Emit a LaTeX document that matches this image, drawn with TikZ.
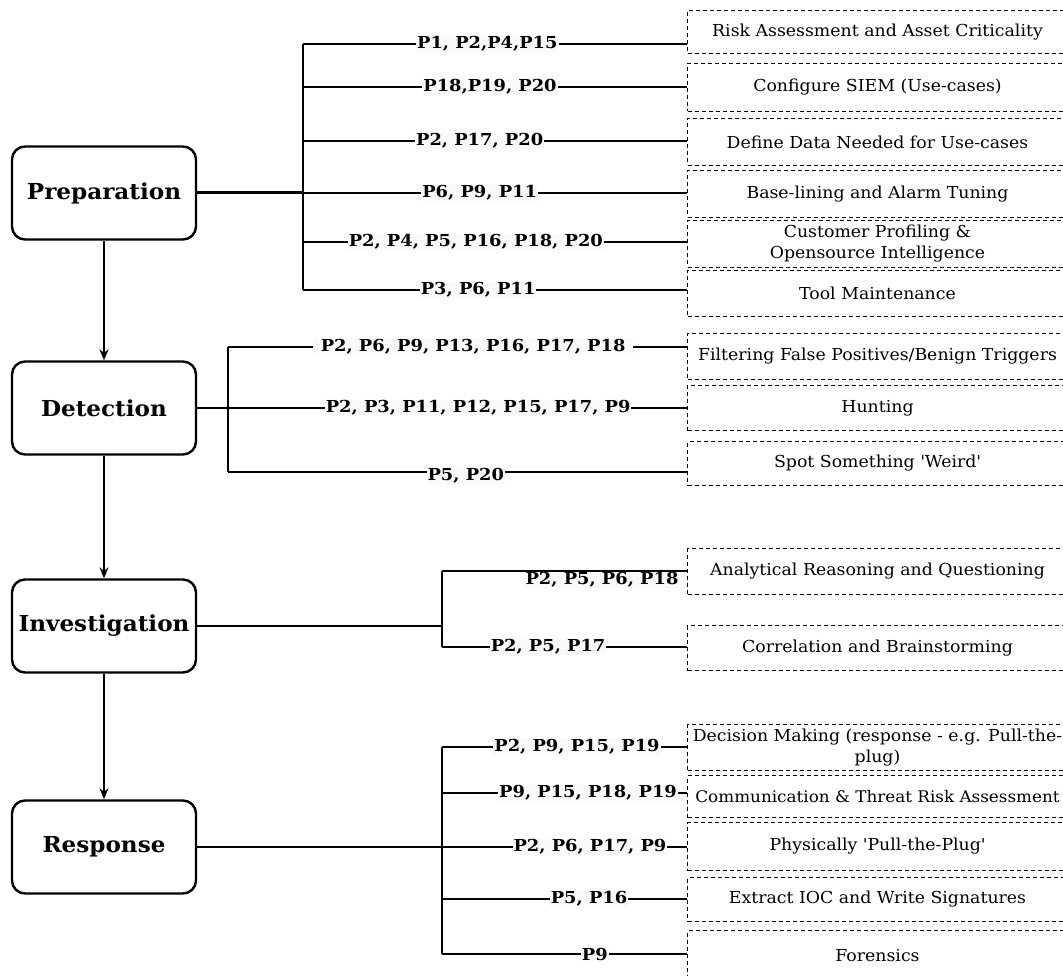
\documentclass[tikz,border=0pt]{standalone}
\usepackage{fontspec}
\setmainfont{DejaVu Serif}[FakeStretch=1.05]
\newfontfamily\reffont{DejaVu Serif}[FakeStretch=1.08]
\usepackage{xcolor}
\usetikzlibrary{arrows.meta, positioning}
\definecolor{refbg}{RGB}{248,249,250}

\begin{document}
\begin{tikzpicture}[x=1pt, y=-1pt, >={Stealth[length=11pt,width=9pt]},
    phase/.style={draw, line width=2.4pt, rounded corners=13pt, minimum width=184pt, minimum height=93pt, font=\bfseries\fontsize{22}{26}\selectfont},
    task/.style={draw, dash pattern=on 4pt off 3pt, line width=1pt, anchor=north west, minimum width=380pt, align=center, inner xsep=1pt, inner ysep=0pt, font=\fontsize{16.5}{21}\selectfont},
    refs/.style={fill=refbg, inner sep=1pt, font=\reffont\bfseries\fontsize{16.5}{20}\selectfont},
    link/.style={line width=1.4pt}]
    \useasboundingbox (0,0) rectangle (1063,976);
    \clip (0,0) rectangle (1063,976);

    % phases
    \node[phase] (prep) at (104,193) {Preparation};
    \node[phase] (det)  at (104,408) {Detection};
    \node[phase] (inv)  at (104,626) {Investigation};
    \node[phase] (res)  at (104,847) {Response};

    \draw[->, line width=1.3pt] (prep) -- (det);
    \draw[->, line width=1.3pt] (det) -- (inv);
    \draw[->, line width=1.3pt] (inv) -- (res);

    % preparation tasks
    \node[task, minimum height=43pt] (r1) at (687,10)  {Risk Assessment and Asset Criticality};
    \node[task, minimum height=48pt] (r2) at (687,63)  {Configure SIEM (Use-cases)};
    \node[task, minimum height=47pt] (r3) at (687,118) {Define Data Needed for Use-cases};
    \node[task, minimum height=47pt] (r4) at (687,170) {Base-lining and Alarm Tuning};
    \node[task, minimum height=47pt] (r5) at (687,220) {Customer Profiling \&\\Opensource Intelligence};
    \node[task, minimum height=46pt] (r6) at (687,270) {Tool Maintenance};

    \draw[line width=3pt] (prep.east) -- (303,193);
    \draw[line width=1.8pt] (303,44) -- (303,290);
    \draw[link] (303,44)  -- node[refs, pos=0.48] {P1, P2,P4,P15} (r1.west |- 303,44);
    \draw[link] (303,87)  -- node[refs, pos=0.487] {P18,P19, P20} (r2.west |- 303,87);
    \draw[link] (303,141) -- node[refs, pos=0.46] {P2, P17, P20} (r3.west |- 303,141);
    \draw[link] (303,193) -- node[refs, pos=0.46] {P6, P9, P11} (r4.west |- 303,193);
    \draw[link] (303,242) -- node[refs, pos=0.45] {P2, P4, P5, P16, P18, P20} (r5.west |- 303,242);
    \draw[link] (303,290) -- node[refs, pos=0.456] {P3, P6, P11} (r6.west |- 303,290);

    % detection tasks
    \node[task, minimum height=46pt] (d1) at (687,333) {Filtering False Positives/Benign Triggers};
    \node[task, minimum height=45pt] (d2) at (687,385) {Hunting};
    \node[task, minimum height=44pt] (d3) at (687,441) {Spot Something \textquotesingle Weird\textquotesingle};

    \draw[link] (det.east) -- (228,408);
    \draw[link] (228,347) -- (228,472);
    \draw[link] (228,347) -- node[refs, pos=0.534, inner xsep=8pt] {P2, P6, P9, P13, P16, P17, P18} (d1.west |- 228,347);
    \draw[link] (228,408) -- node[refs, pos=0.545] {P2, P3, P11, P12, P15, P17, P9} (d2.west |- 228,408);
    \draw[link] (228,472) -- node[refs, pos=0.518, yshift=-4pt] {P5, P20} (d3.west |- 228,472);

    % investigation tasks
    \node[task, minimum height=46pt] (i1) at (687,548) {Analytical Reasoning and Questioning};
    \node[task, minimum height=45pt] (i2) at (687,625) {Correlation and Brainstorming};

    \draw[link] (inv.east) -- (442,626);
    \draw[link] (442,571) -- (442,647);
    \draw[link] (442,571) -- node[refs, pos=0.653, yshift=-9pt] {P2, P5, P6, P18} (i1.west |- 442,571);
    \draw[link] (442,647) -- node[refs, pos=0.433] {P2, P5, P17} (i2.west |- 442,647);

    % response tasks
    \node[task, minimum height=46pt] (s1) at (687,724) {Decision Making (response - e.g. Pull-the-\\plug)};
    \node[task, minimum height=42pt, font=\fontsize{16}{21}\selectfont] (s2) at (687,775) {Communication \& Threat Risk Assessment};
    \node[task, minimum height=48pt] (s3) at (687,822) {Physically \textquotesingle Pull-the-Plug\textquotesingle};
    \node[task, minimum height=44pt] (s4) at (687,877) {Extract IOC and Write Signatures};
    \node[task, minimum height=50pt] (s5) at (687,930) {Forensics};

    \draw[link] (res.east) -- (442,847);
    \draw[link] (442,747) -- (442,954);
    \draw[link] (442,747) -- node[refs, pos=0.551] {P2, P9, P15, P19} (s1.west |- 442,747);
    \draw[link] (442,793) -- node[refs, pos=0.596] {P9, P15, P18, P19} (s2.west |- 442,793);
    \draw[link] (442,847) -- node[refs, pos=0.604] {P2, P6, P17, P9} (s3.west |- 442,847);
    \draw[link] (442,899) -- node[refs, pos=0.6] {P5, P16} (s4.west |- 442,899);
    \draw[link] (442,954) -- node[refs, pos=0.624] {P9} (s5.west |- 442,954);
\end{tikzpicture}
\end{document}
